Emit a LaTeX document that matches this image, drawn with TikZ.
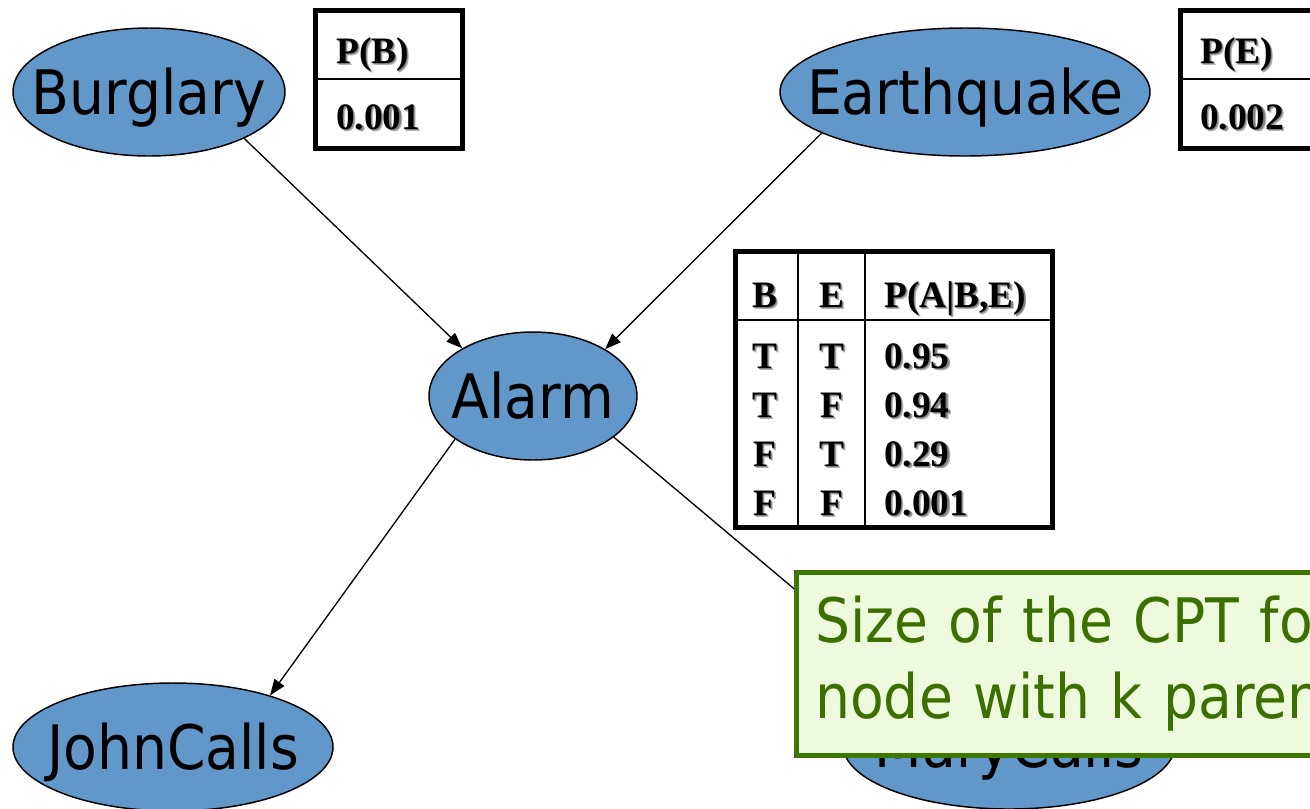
\documentclass[tikz,border=0pt]{standalone}
\usepackage{fontspec}
\usetikzlibrary{shapes.geometric,arrows.meta}
\newfontfamily\nodefont[FakeStretch=0.9]{DejaVu Sans}
\newfontfamily\tabfont{Liberation Serif}
\definecolor{nodeblue}{HTML}{6197C9}
\definecolor{notefill}{HTML}{EEFADE}
\definecolor{noteedge}{HTML}{3E7800}
\definecolor{notetext}{HTML}{3B6F00}
% bold serif text with a soft grey drop shadow
\newcommand{\shadowtxt}[1]{\rlap{\kern1.6pt\raisebox{-1.6pt}{\textcolor{black!30}{#1}}}%
  \rlap{\kern0.9pt\raisebox{-0.9pt}{\textcolor{black!50}{#1}}}#1}
% label on a zero-size box, capitals centred, so the style alone sets the ellipse size
\newcommand{\vlabel}[1]{\makebox[0pt][c]{\raisebox{-0.365em}[0pt][0pt]{#1}}}
\tikzset{
  var/.style={ellipse, draw=black, line width=1.1pt, fill=nodeblue, inner sep=0pt,
    minimum height=96pt, font=\nodefont\fontsize{46}{54}\selectfont},
  edge/.style={line width=1pt, -{Triangle[length=12pt,width=9pt]}},
  tabouter/.style={line width=3.75pt},
  tabinner/.style={line width=1.5pt},
  tabtxt/.style={inner sep=0pt, font=\tabfont\bfseries\fontsize{28}{33}\selectfont},
  notebox/.style={draw=noteedge, fill=notefill, line width=3.75pt, text=notetext,
    align=left, inner xsep=14pt, inner ysep=0pt, text width=700pt,
    font=\nodefont\fontsize{46}{57}\selectfont},
}
\begin{document}
\begin{tikzpicture}[x=0.75pt,y=-0.75pt]
\clip (0,0) rectangle (1310,808);
\fill[white] (0,0) rectangle (1310,808);

% variables of the network
\node[var, minimum width=204pt]   (burglary) at (149,92)  {\vlabel{Burglary}};
\node[var, minimum width=277.5pt] (quake)    at (965,92)  {\vlabel{Earthquake}};
\node[var, minimum width=156pt]   (alarm)    at (533,396) {\vlabel{Alarm}};
\node[var, minimum width=240pt]   (john)     at (173,747) {\vlabel{JohnCalls}};
\node[var, minimum width=249pt]   (mary)     at (1009,745) {\vlabel{MaryCalls}};

% causal links
\draw[edge] (burglary.-26) -- (alarm.146);
\draw[edge] (quake.-164) -- (alarm.33);
\draw[edge] (alarm.209) -- (john.28);
\draw[edge] (alarm.-27) -- (mary.150);

% prior of Burglary
\draw[tabouter] (315,10) rectangle (462,148);
\draw[tabinner] (315,79) -- (462,79);
\node[tabtxt, anchor=base west] (pbh) at (336,63)  {\shadowtxt{P(B)}};
\node[tabtxt, anchor=base west] (pbv) at (336,129) {\shadowtxt{0.001}};

% prior of Earthquake
\draw[tabouter] (1180,10) rectangle (1340,148);
\draw[tabinner] (1180,79) -- (1340,79);
\node[tabtxt, anchor=base west] (peh) at (1200,63)  {\shadowtxt{P(E)}};
\node[tabtxt, anchor=base west] (pev) at (1200,129) {\shadowtxt{0.002}};

% conditional table of Alarm
\draw[tabouter] (735,251) rectangle (1052,527);
\draw[tabinner] (735,320) -- (1052,320);
\draw[tabinner] (798,251) -- (798,527);
\draw[tabinner] (865,251) -- (865,527);
\node[tabtxt, anchor=base] (hb) at (765,307) {\shadowtxt{B}};
\node[tabtxt, anchor=base] (he) at (832,307) {\shadowtxt{E}};
\node[tabtxt, anchor=base west] (hp) at (884,307) {\shadowtxt{P(A|B,E)}};
\node[tabtxt, anchor=base] (b1) at (765,368) {\shadowtxt{T}};
\node[tabtxt, anchor=base] (e1) at (832,368) {\shadowtxt{T}};
\node[tabtxt, anchor=base west] (p1) at (884,368) {\shadowtxt{0.95}};
\node[tabtxt, anchor=base] (b2) at (765,417) {\shadowtxt{T}};
\node[tabtxt, anchor=base] (e2) at (832,417) {\shadowtxt{F}};
\node[tabtxt, anchor=base west] (p2) at (884,417) {\shadowtxt{0.94}};
\node[tabtxt, anchor=base] (b3) at (765,466) {\shadowtxt{F}};
\node[tabtxt, anchor=base] (e3) at (832,466) {\shadowtxt{T}};
\node[tabtxt, anchor=base west] (p3) at (884,466) {\shadowtxt{0.29}};
\node[tabtxt, anchor=base] (b4) at (765,515) {\shadowtxt{F}};
\node[tabtxt, anchor=base] (e4) at (832,515) {\shadowtxt{F}};
\node[tabtxt, anchor=base west] (p4) at (884,515) {\shadowtxt{0.001}};

% callout about the table size
\node[notebox, anchor=north west, minimum height=137.25pt] (note) at (794,570)
  {Size of the CPT for a\\node with k parents};
\end{tikzpicture}
\end{document}
